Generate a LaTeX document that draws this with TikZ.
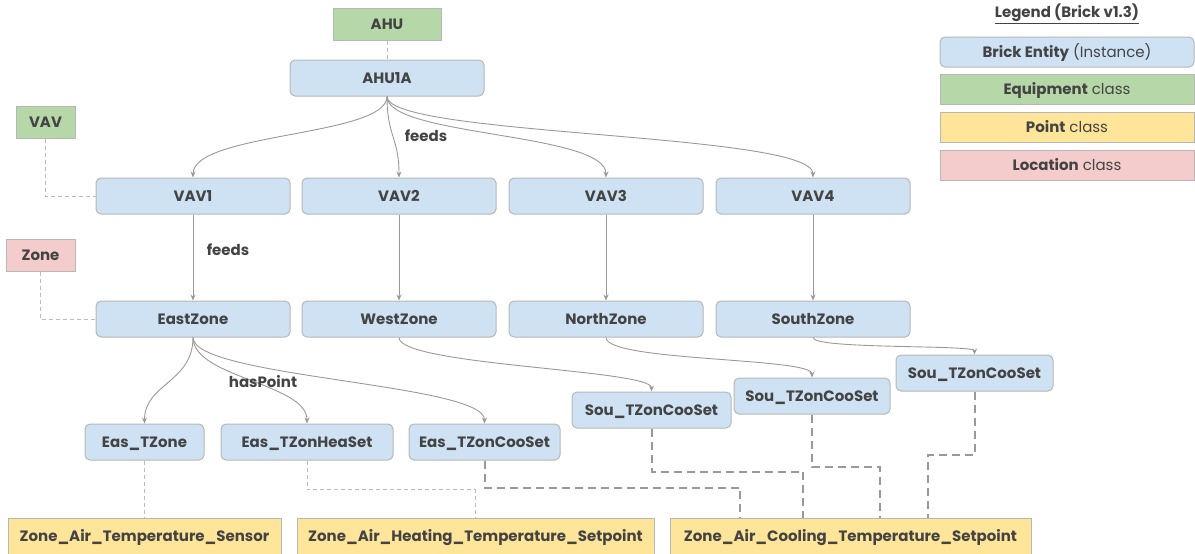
\documentclass[tikz,border=0pt]{standalone}
\usepackage{fontspec}
\setmainfont{Poppins}
\usetikzlibrary{arrows.meta}
\definecolor{entfill}{HTML}{CFE2F3}
\definecolor{eqpfill}{HTML}{B6D7A8}
\definecolor{pntfill}{HTML}{FFE599}
\definecolor{locfill}{HTML}{F4CCCC}
\definecolor{bordc}{HTML}{B7B7B7}
\definecolor{txtc}{HTML}{434343}
\definecolor{linec}{HTML}{999999}
\definecolor{dashc}{HTML}{BBBBBB}
\tikzset{
  base/.style={draw=bordc, line width=1pt, inner sep=0pt, text=txtc, text height=11pt, text depth=0pt, font=\fontsize{15}{18}\selectfont\bfseries},
  ent/.style={base, fill=entfill, rounded corners=5pt, minimum width=194pt, minimum height=36pt},
  eqp/.style={base, fill=eqpfill, minimum height=32pt},
  pnt/.style={base, fill=pntfill, minimum height=36pt},
  loc/.style={base, fill=locfill, minimum height=32pt},
  rel/.style={draw=linec, line width=0.9pt, -{Stealth[length=6pt,width=5pt]}},
  cls/.style={draw=dashc, line width=1pt, dash pattern=on 4pt off 3pt},
  clsB/.style={draw=linec, line width=2pt, dash pattern=on 8pt off 5pt},
  lbl/.style={text=txtc, font=\fontsize{15}{18}\selectfont\bfseries},
  leg/.style={base, font=\fontsize{15}{18}\selectfont, minimum width=254pt, minimum height=30pt}
}
\begin{document}
\begin{tikzpicture}[x=1pt,y=-1pt]
\useasboundingbox (0,0) rectangle (1195,554);
% class nodes
\node[eqp, minimum width=108pt] (ahu) at (387,24) {AHU};
\node[eqp, minimum width=59pt] (vavc) at (45.5,122) {VAV};
\node[loc, minimum width=69pt] (zonec) at (40.5,255) {Zone};
% entities
\node[ent] (ahu1a) at (387,78) {AHU1A};
\node[ent] (vav1) at (193,196) {VAV1};
\node[ent] (vav2) at (399,196) {VAV2};
\node[ent] (vav3) at (606,196) {VAV3};
\node[ent] (vav4) at (813,196) {VAV4};
\node[ent] (ez) at (193,319) {EastZone};
\node[ent] (wz) at (399,319) {WestZone};
\node[ent] (nz) at (606,319) {NorthZone};
\node[ent] (sz) at (813,319) {SouthZone};
\node[ent, minimum width=119pt] (etz) at (144.5,442) {Eas\_TZone};
\node[ent, minimum width=172pt] (eth) at (307,442) {Eas\_TZonHeaSet};
\node[ent, minimum width=151pt] (etc) at (484.5,442) {Eas\_TZonCooSet};
\node[ent, minimum width=159pt] (s1) at (651.5,410) {Sou\_TZonCooSet};
\node[ent, minimum width=156pt] (s2) at (812,396) {Sou\_TZonCooSet};
\node[ent, minimum width=157pt] (s3) at (974.5,373) {Sou\_TZonCooSet};
% points
\node[pnt, minimum width=273pt] (zats) at (144.5,536) {Zone\_Air\_Temperature\_Sensor};
\node[pnt, minimum width=357pt] (zahs) at (475.5,536) {Zone\_Air\_Heating\_Temperature\_Setpoint};
\node[pnt, minimum width=361pt] (zacs) at (850.5,536) {Zone\_Air\_Cooling\_Temperature\_Setpoint};
% coordinates on cooling/heating tops
\coordinate (c0) at (475,518);
\coordinate (c1) at (740,518);
\coordinate (c2) at (803,518);
\coordinate (c3) at (880,518);
\coordinate (c4) at (928,518);
% class dashed links
\draw[cls] (ahu.south) -- (ahu1a.north);
\draw[cls] (vavc.south) |- (vav1.west);
\draw[cls] (zonec.south) |- (ez.west);
\draw[cls] (etz.south) -- (zats.north);
\draw[cls] (eth.south) -- ++(0,29) -| (c0);
\draw[clsB] (etc.south) -- ++(0,27) -| (c1);
\draw[clsB] (s1.south) -- ++(0,43) -| (c2);
\draw[clsB] (s2.south) -- ++(0,52) -| (c3);
\draw[clsB] (s3.south) -- ++(0,63) -| (c4);
% feeds from AHU1A
\draw[rel] (ahu1a.south) .. controls +(0,40) and +(0,-45) .. (vav1.north);
\draw[rel] (ahu1a.south) .. controls +(0,40) and +(0,-40) .. (vav2.north);
\draw[rel] (ahu1a.south) .. controls +(0,40) and +(0,-45) .. (vav3.north);
\draw[rel] (ahu1a.south) .. controls +(0,40) and +(0,-45) .. (vav4.north);
% feeds VAV -> Zone
\draw[rel] (vav1.south) -- (ez.north);
\draw[rel] (vav2.south) -- (wz.north);
\draw[rel] (vav3.south) -- (nz.north);
\draw[rel] (vav4.south) -- (sz.north);
% hasPoint
\draw[rel] (ez.south) .. controls +(0,45) and +(0,-40) .. (etz.north);
\draw[rel] (ez.south) .. controls +(0,40) and +(0,-40) .. (eth.north);
\draw[rel] (ez.south) .. controls +(0,40) and +(0,-40) .. (etc.north);
\draw[rel] (wz.south) .. controls +(0,28) and +(0,-22) .. (s1.north);
\draw[rel] (nz.south) .. controls +(0,24) and +(0,-20) .. (s2.north);
\draw[rel] (sz.south) .. controls +(0,12) and +(0,-10) .. (s3.north);
% labels
\node[lbl] (lf1) at (426,136) {feeds};
\node[lbl] (lf2) at (228,250) {feeds};
\node[lbl] (lhp) at (263,382) {hasPoint};
% legend
\node[lbl] (legt) at (1067,14) {\underline{Legend (Brick v1.3)}};
\node[leg, fill=entfill, rounded corners=5pt] (l1) at (1067,52) {\textbf{Brick Entity} (Instance)};
\node[leg, fill=eqpfill] (l2) at (1067,89) {\textbf{Equipment} class};
\node[leg, fill=pntfill] (l3) at (1067,127) {\textbf{Point} class};
\node[leg, fill=locfill] (l4) at (1067,165) {\textbf{Location} class};
\end{tikzpicture}
\end{document}
